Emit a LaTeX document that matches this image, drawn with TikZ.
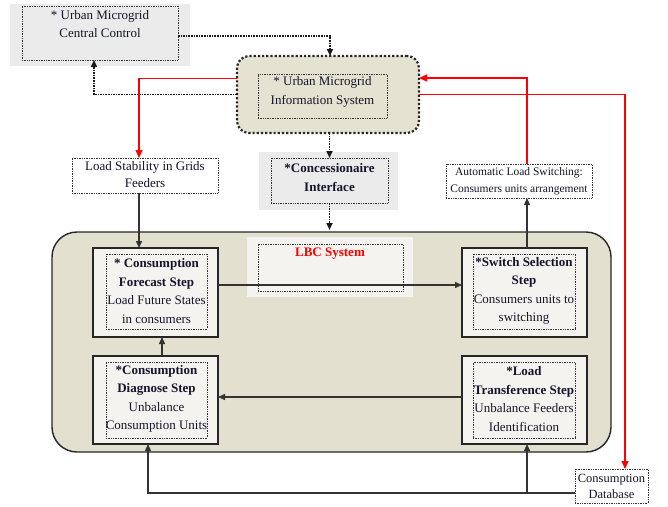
\documentclass[tikz,border=0pt]{standalone}
\usepackage{fontspec}
\setmainfont{Liberation Serif}
\usetikzlibrary{arrows.meta}
\definecolor{beige}{HTML}{E4E0D0}
\definecolor{isfill}{HTML}{E6E2D2}
\definecolor{grayf}{HTML}{EBEBEB}
\definecolor{boxf}{HTML}{F4F3EF}
\definecolor{txtc}{HTML}{14142A}
\begin{document}
\begin{tikzpicture}[x=1pt,y=-1pt,
  every node/.style={inner sep=0pt, outer sep=0pt, text=txtc},
  graybg/.style={fill=grayf, draw=none},
  dotbox/.style={draw=black!80, densely dotted, line width=0.7pt},
  solidbox/.style={draw=black!85, line width=1.4pt, fill=boxf},
  txt/.style={align=center, font=\fontsize{13}{18.5}\selectfont},
  dotline/.style={draw=black!90, densely dotted, line width=1.6pt},
  redline/.style={draw=red, line width=1.1pt},
  blkline/.style={draw=black!80, line width=1.3pt},
  tip/.style={-{Triangle[length=7pt,width=6pt]}},
  redtip/.style={-{Triangle[length=8pt,width=7pt]}}
]
\useasboundingbox (0,0) rectangle (668,506);

% Central control
\node[graybg, minimum width=180pt, minimum height=62pt] (ccbg) at (100,35) {};
\node[dotbox, minimum width=156pt, minimum height=54pt] (cc) at (100,33) {};
\node[txt] (cct) at (100,24) {* Urban Microgrid\\Central Control};

% Information system
\node[draw=black!85, dotted, line width=2.2pt, fill=isfill, rounded corners=12pt, minimum width=182pt, minimum height=77pt] (is) at (328,94.5) {};
\node[dotbox, minimum width=129pt, minimum height=44pt] (isi) at (322.5,96) {};
\node[txt] (ist) at (322.5,92) {* Urban Microgrid\\Information System};

% Load stability
\node[dotbox, fill=white, minimum width=146pt, minimum height=35pt] (ls) at (145,175.5) {};
\node[txt, font=\fontsize{13}{17}\selectfont] (lst) at (145,175) {Load Stability in Grids\\Feeders};

% Concessionaire
\node[graybg, minimum width=139pt, minimum height=58pt] (cibg) at (328.5,181) {};
\node[dotbox, minimum width=117pt, minimum height=45pt] (ci) at (329.5,180.5) {};
\node[txt, font=\bfseries\fontsize{13}{19}\selectfont] (cit) at (329.5,177.5) {*Concessionaire\\Interface};

% Automatic load switching
\node[dotbox, fill=white, minimum width=146pt, minimum height=34pt] (al) at (519,181) {};
\node[txt, font=\fontsize{11.5}{17.5}\selectfont] (alt) at (519,181) {Automatic Load Switching:\\Consumers units arrangement};

% LBC container
\node[draw=black!85, line width=1.4pt, fill=beige, rounded corners=25pt, minimum width=559pt, minimum height=220pt] (lbc) at (331.5,342) {};
\node[fill=boxf, minimum width=166pt, minimum height=60pt] (lsbg) at (330,267) {};
\node[dotbox, minimum width=145pt, minimum height=47pt] (lsd) at (330.5,267.5) {};
\node[font=\bfseries\fontsize{13}{15}\selectfont, text=red] (lbct) at (330,254) {LBC System};

% Forecast
\node[solidbox, minimum width=125pt, minimum height=89pt] (fc) at (155.5,292.5) {};
\node[dotbox, minimum width=101pt, minimum height=75pt] (fci) at (156.5,291.5) {};
\node[txt] (fct) at (156.5,291) {\textbf{* Consumption}\\\textbf{Forecast Step}\\Load Future States\\in consumers};

% Diagnose
\node[solidbox, minimum width=125pt, minimum height=88pt] (dg) at (155.5,400) {};
\node[dotbox, minimum width=101pt, minimum height=76pt] (dgi) at (156.5,400) {};
\node[txt] (dgt) at (156.5,399) {\textbf{*Consumption}\\\textbf{Diagnose Step}\\Unbalance\\Consumption Units};

% Switch selection
\node[solidbox, minimum width=125pt, minimum height=89pt] (sw) at (524.5,292.5) {};
\node[dotbox, minimum width=102pt, minimum height=75pt] (swi) at (524,291.5) {};
\node[txt] (swt) at (524,291) {\textbf{*Switch Selection}\\\textbf{Step}\\Consumers units to\\switching};

% Load transference
\node[solidbox, minimum width=125pt, minimum height=88pt] (lt) at (524.5,400) {};
\node[dotbox, minimum width=102pt, minimum height=76pt] (lti) at (524,400) {};
\node[txt] (ltt) at (524,399) {\textbf{*Load}\\\textbf{Transference Step}\\Unbalance Feeders\\Identification};

% Consumption database
\node[dotbox, fill=white, minimum width=73pt, minimum height=34pt] (db) at (611.5,486) {};
\node[txt, font=\fontsize{12.5}{16}\selectfont] (dbt) at (611.5,486) {Consumption\\Database};

% Dotted connectors
\draw[dotline, tip] ([yshift=-3]cc.east) -| ([xshift=2]is.north);
\draw[dotline, tip] (is.west) -| ([xshift=-6]cc.south);
\draw[dotline, tip] ([xshift=1.5]is.south) -- ([xshift=1.5]is.south |- ci.north);
\draw[dotline, tip] (ci.south) -- ([yshift=2]ci.south |- lbc.north);

% Red connectors
\draw[redline, redtip] ([yshift=16]is.west) -| ([xshift=-6]ls.north);
\draw[redline, redtip] ([xshift=8]al.north) |- ([yshift=16.5]is.east);
\draw[redline, redtip] (is.east) -| ([xshift=13.5]db.north);

% Black connectors
\draw[blkline, tip] ([xshift=-6]ls.south) -- ([xshift=-6]ls.south |- fc.north);
\draw[blkline, tip] ([yshift=7.5]fc.east) -- ([yshift=7.5]sw.west);
\draw[blkline, tip] ([yshift=3]lt.west) -- ([yshift=3]dg.east);
\draw[blkline, tip] ([xshift=6.5]dg.north) -- ([xshift=6.5]fc.south);
\draw[blkline, tip] ([xshift=2.5]sw.north) -- ([xshift=2.5]sw.north |- al.south);
\coordinate (bj) at (527,493);
\draw[blkline, tip] (db.west |- bj) -| ([xshift=-7.5]dg.south);
\draw[blkline, tip] (bj) -- (bj |- lt.south);
\end{tikzpicture}
\end{document}
